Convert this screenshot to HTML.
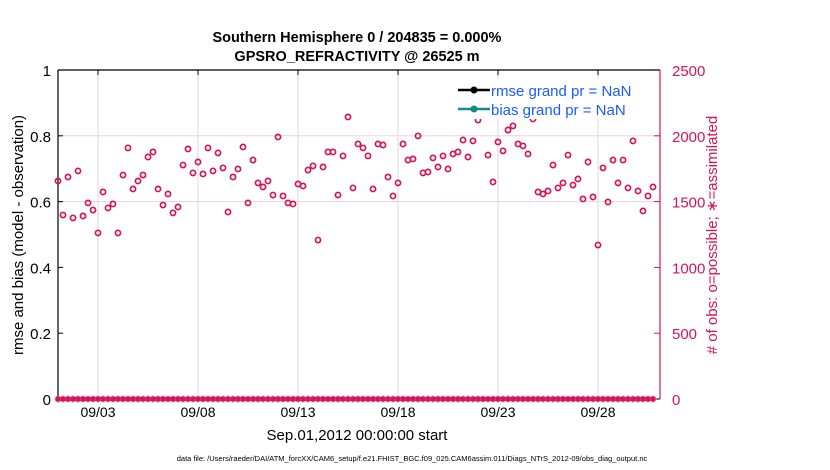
<!DOCTYPE html>
<html><head><meta charset="utf-8"><style>
body{margin:0;background:#fff;}
svg{display:block;font-family:"Liberation Sans",Arial,sans-serif;}
</style></head><body>
<svg id="chart" width="830" height="470" viewBox="0 0 830 470">
<g id="grid"></g>
<g id="axes"></g>
<g id="marks"></g>
<text x="357" y="42" text-anchor="middle" font-size="14.5" font-weight="bold">Southern Hemisphere 0 / 204835 = 0.000%</text>
<text x="357" y="61" text-anchor="middle" font-size="14.5" font-weight="bold">GPSRO_REFRACTIVITY @ 26525 m</text>
<text transform="translate(23,235) rotate(-90)" text-anchor="middle" font-size="15">rmse and bias (model - observation)</text>
<text transform="translate(717,235) rotate(-90)" text-anchor="middle" font-size="15" fill="#d3145a"># of obs: o=possible; ∗=assimilated</text>
<text x="357" y="440" text-anchor="middle" font-size="15">Sep.01,2012 00:00:00 start</text>
<text x="412" y="461" text-anchor="middle" font-size="7.5">data file: /Users/raeder/DAI/ATM_forcXX/CAM6_setup/f.e21.FHIST_BGC.f09_025.CAM6assim.011/Diags_NTrS_2012-09/obs_diag_output.nc</text>
<g>
<rect x="452" y="79" width="195" height="40" fill="#fff"/>
<g>
<line x1="458" y1="90" x2="490" y2="90" stroke="#000" stroke-width="2.5"/><circle cx="474" cy="90" r="3.5" fill="#000"/>
<text x="491" y="96" font-size="15" fill="#1a5bff">rmse grand pr = NaN</text></g>
<g>
<line x1="458" y1="109" x2="490" y2="109" stroke="#138a8a" stroke-width="2.5"/><circle cx="474" cy="109" r="3.5" fill="#138a8a"/>
<text x="491" y="115" font-size="15" fill="#1a5bff">bias grand pr = NaN</text></g>
</g>
</svg>
<script>
const obsCounts=[1657,1398,1687,1376,1733,1391,1490,1436,1262,1573,
1452,1482,1262,1702,1908,1596,1657,1702,1839,1877,
1596,1474,1558,1414,1459,1778,1900,1718,1801,1710,
1908,1733,1870,1756,1421,1687,1748,1915,1490,1816,
1642,1611,1657,1550,1991,1543,1490,1482,1634,1619,
1740,1771,1208,1763,1877,1877,1550,1847,2143,1604,
1938,1908,1847,1596,1938,1930,1687,1543,1642,1938,
1816,1824,1999,1718,1725,1832,1763,1847,1748,1862,
1877,1968,1839,1961,2120,2166,1854,1649,1953,1885,
2044,2075,1938,1923,1862,2128,1573,1558,1581,1778,
1604,1642,1854,1626,1672,1520,1801,1535,1170,1756,
1497,1816,1642,1816,1604,1961,1581,1429,1543,1611];
const assimCounts=obsCounts.map(()=>0);
const stepDays=0.25;
const xTickDays=[2,7,12,17,22,27];
const xTickLabels=["09/03","09/08","09/13","09/18","09/23","09/28"];
const leftTicks=[0,0.2,0.4,0.6,0.8,1];
const leftTickLabels=["0","0.2","0.4","0.6","0.8","1"];
const rightTicks=[0,500,1000,1500,2000,2500];

const NS="http://www.w3.org/2000/svg";
const X0=58,X1=660,Y0=399,Y1=70;
const xs=d=>X0+d*20.0;
const yl=v=>Y0-(Y0-Y1)*v;
const yr=v=>Y0-(Y0-Y1)*v/2500;
const MAG="#d3145a";
function mk(tag,attrs,parent){const e=document.createElementNS(NS,tag);for(const k in attrs)e.setAttribute(k,attrs[k]);parent.appendChild(e);return e;}
const grid=document.getElementById('grid'),axes=document.getElementById('axes'),marks=document.getElementById('marks');
xTickDays.forEach((d,i)=>{
 const g=mk('line',{x1:xs(d),x2:xs(d),y1:Y1,y2:Y0,stroke:'#d8d8d8','stroke-width':1},grid);
 
 
 mk('line',{x1:xs(d),x2:xs(d),y1:Y1,y2:Y1+5,stroke:'#000','stroke-width':1},axes);
 const t=mk('text',{x:xs(d),y:Y0+18,'text-anchor':'middle','font-size':14},axes);t.textContent=xTickLabels[i];
 
 
});
rightTicks.forEach(v=>{
 if(v==1500||v==2000){const g=mk('line',{x1:X0,x2:X1,y1:yr(v),y2:yr(v),stroke:'#f2d0dc','stroke-width':1},grid);
 
 }
 mk('line',{x1:X1,x2:X1-6,y1:yr(v),y2:yr(v),stroke:MAG,'stroke-width':1},axes);
 const t=mk('text',{x:X1+12,y:yr(v)+6,'font-size':15,fill:MAG},axes);t.textContent=String(v);
 
 
});
leftTicks.forEach((v,i)=>{
 mk('line',{x1:X0,x2:X0+5,y1:yl(v),y2:yl(v),stroke:'#000','stroke-width':1},axes);
 const t=mk('text',{x:X0-7,y:yl(v)+6,'text-anchor':'end','font-size':15},axes);t.textContent=leftTickLabels[i];
 
 
});
const ta=mk('line',{x1:X0,x2:X1,y1:Y1,y2:Y1,stroke:'#000','stroke-width':1.2},axes);


const la=mk('line',{x1:X0,x2:X0,y1:Y1,y2:Y0,stroke:'#000','stroke-width':1.2},axes);


const ra=mk('line',{x1:X1,x2:X1,y1:Y1,y2:Y0,stroke:MAG,'stroke-width':1.2},axes);


const ba=mk('line',{x1:X0,x2:X1,y1:Y0,y2:Y0,stroke:'#000','stroke-width':1},axes);


obsCounts.forEach((v,i)=>{
 const c=mk('circle',{cx:xs(i*stepDays),cy:yr(v),r:2.6,fill:'none',stroke:MAG,'stroke-width':1.7},marks);
 
 
});
assimCounts.forEach((v,i)=>{
 const cx=xs(i*stepDays),cy=yr(v),r=3.2;
 const d=`M${cx-r},${cy}H${cx+r}M${cx},${cy-r}V${cy+r}M${cx-r*0.7},${cy-r*0.7}L${cx+r*0.7},${cy+r*0.7}M${cx-r*0.7},${cy+r*0.7}L${cx+r*0.7},${cy-r*0.7}`;
 const p=mk('path',{d:d,stroke:MAG,'stroke-width':1.6,fill:'none'},marks);
 
 
});
</script>
</body></html>
